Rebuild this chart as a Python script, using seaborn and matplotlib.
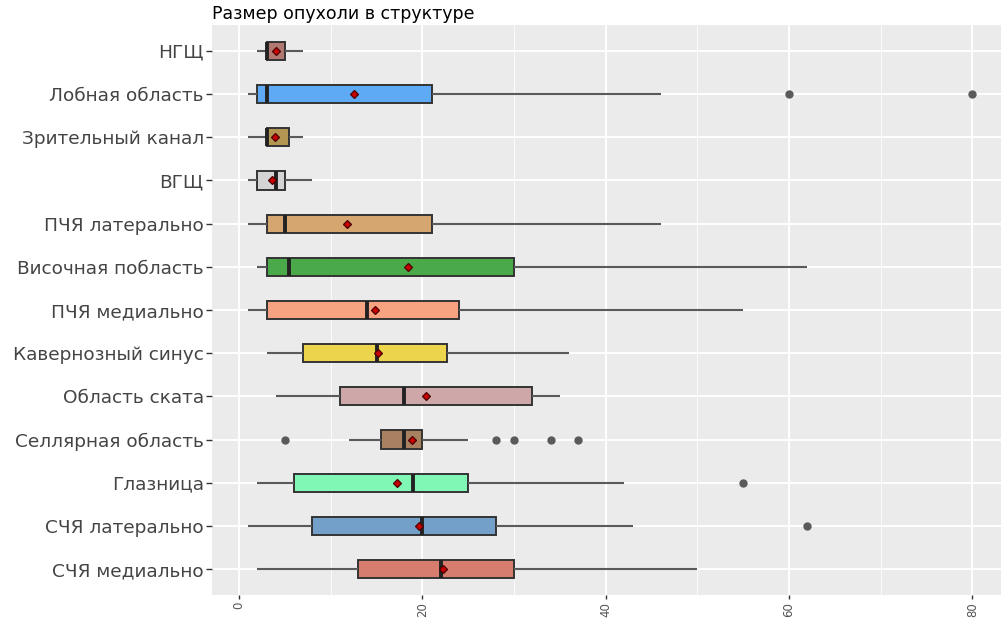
import numpy as np
import pandas as pd
import matplotlib
matplotlib.use("Agg")
import matplotlib.pyplot as plt
from matplotlib.ticker import MultipleLocator
import seaborn as sns

# Tumour size by anatomical structure: five-number summaries, outliers and means
categories = [
    "НГЩ", "Лобная область", "Зрительный канал", "ВГЩ", "ПЧЯ латерально",
    "Височная побласть", "ПЧЯ медиально", "Кавернозный синус", "Область ската",
    "Селлярная область", "Глазница", "СЧЯ латерально", "СЧЯ медиально",
]
whisker_low = [2, 1, 1, 1, 1, 2, 1, 3, 4, 12, 2, 1, 2]
q1 = [3, 2, 3, 2, 3, 3, 3, 7, 11, 15.5, 6, 8, 13]
median = [3, 3, 3, 4, 5, 5.5, 14, 15, 18, 18, 19, 20, 22]
q3 = [5, 21, 5.5, 5, 21, 30, 24, 22.7, 32, 20, 25, 28, 30]
whisker_high = [7, 46, 7, 8, 46, 62, 55, 36, 35, 25, 42, 43, 50]
outliers = {
    "Лобная область": [60, 80],
    "Селлярная область": [5, 28, 30, 34, 37],
    "Глазница": [55],
    "СЧЯ латерально": [62],
}
means = [4.0, 12.5, 3.9, 3.6, 11.8, 18.4, 14.8, 15.2, 20.4, 18.9, 17.2, 19.6, 22.2]

colors = [
    "#B07870", "#5FAAF5", "#B29652", "#D4D4D4", "#D6A670", "#4AAA4A", "#F7A280",
    "#ECD44C", "#CEA8A8", "#A88260", "#80F7B4", "#73A0C8", "#D77D6E",
]

title = "Размер опухоли в структуре"

# Long-form table whose quartiles and whisker ends reproduce each summary
rows = []
block = 20
for i, cat in enumerate(categories):
    vals = [whisker_low[i]] + [q1[i]] * block + [median[i]] * block + [q3[i]] * block + [whisker_high[i]]
    vals += outliers.get(cat, [])
    rows += [(cat, v) for v in vals]
df = pd.DataFrame(rows, columns=["structure", "size"])
mean_df = pd.DataFrame({"structure": categories, "size": means})

sns.set_theme(style="darkgrid", rc={
    "axes.facecolor": "#EBEBEB",
    "grid.color": "white",
    "figure.facecolor": "white",
})
plt.rcParams["font.family"] = ["DejaVu Sans"]

W, H = 1001, 619
fig = plt.figure(figsize=(W / 100, H / 100), dpi=100)
left, right, top, bottom = 212, 1008.6, 25, 595
ax = fig.add_axes([left / W, 1 - bottom / H, (right - left) / W, (bottom - top) / H])

palette = dict(zip(categories, colors))
sns.boxplot(
    data=df, x="size", y="structure", hue="structure", order=categories,
    hue_order=categories, palette=palette, legend=False, orient="h",
    width=0.42, showcaps=False, whis=1.5, linecolor="#333333", linewidth=1.4,
    fliersize=5, saturation=1, ax=ax,
    whiskerprops={"color": "#5a5a5a", "linewidth": 1.5},
    medianprops={"color": "#222222", "linewidth": 2.8},
    flierprops={"marker": "o", "markerfacecolor": "#5a5a5a",
                "markeredgecolor": "#5a5a5a"},
)
sns.pointplot(
    data=mean_df, x="size", y="structure", order=categories, orient="h",
    errorbar=None, linestyle="none", marker="D", color="#C80000",
    markersize=4.3, markeredgecolor="#4a0000", markeredgewidth=0.9,
    zorder=6, ax=ax,
)

ax.set_xlim(-2.95, 83.95)
ax.set_ylim(len(categories) - 0.4, -0.6)
ax.xaxis.set_major_locator(MultipleLocator(20))
ax.xaxis.set_minor_locator(MultipleLocator(10))
ax.grid(which="major", axis="both", color="white", linewidth=1.4)
ax.grid(which="minor", axis="x", color="white", linewidth=0.6)
ax.set_axisbelow(True)
for s in ax.spines.values():
    s.set_visible(False)

ax.set_xlabel("")
ax.set_ylabel("")
ax.tick_params(axis="y", which="major", length=4, width=1, color="#333333",
               labelsize=13.3, labelcolor="#444444", pad=2, left=True)
ax.tick_params(axis="x", which="major", length=3, width=1, color="#333333",
               labelsize=8.5, labelcolor="#555555", pad=2, labelrotation=90,
               bottom=True)
ax.tick_params(axis="x", which="minor", length=0)

ax.set_title(title, loc="left", fontsize=12.5, color="black", pad=4)

fig.savefig("out.png", dpi=100)
